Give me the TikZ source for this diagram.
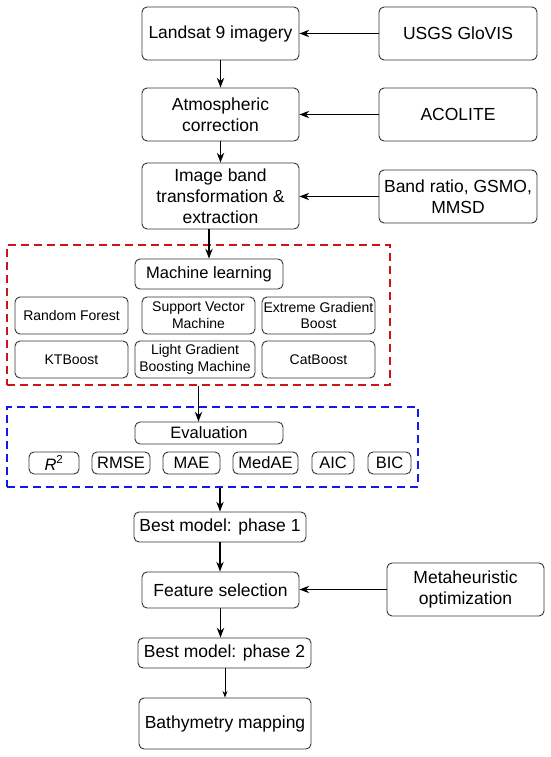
\documentclass[tikz,border=0pt]{standalone}
\usepackage{fontspec}
\setmainfont{Liberation Sans}
\usetikzlibrary{arrows.meta}

\tikzset{
  box/.style={draw=black!80, line width=0.9pt, rounded corners=5pt, align=center,
    inner sep=0pt, font=\fontsize{17.5}{21}\selectfont},
  subbox/.style={box, font=\fontsize{14}{16.7}\selectfont},
  metbox/.style={box, font=\fontsize{16.5}{19}\selectfont},
  sz/.style 2 args={minimum width=#1, minimum height=#2},
  frame/.style={line width=2.6pt, dash pattern=on 8pt off 5pt, inner sep=0pt},
  flow/.style={->, line width=1.5pt},
}
\definecolor{framered}{RGB}{205,20,25}
\definecolor{frameblue}{RGB}{20,25,235}

\begin{document}
\begin{tikzpicture}[>=Stealth, x=1pt, y=-1pt]
  \useasboundingbox (0,0) rectangle (550,757);
  % Data acquisition and preprocessing
  \node[box, sz={157}{53}] (land) at (220.5,33.5) {Landsat 9 imagery};
  \node[box, sz={158}{53}] (usgs) at (458,33.5) {USGS GloVIS};
  \node[box, sz={157}{53}] (atm) at (220.5,114.5) {Atmospheric\\correction};
  \node[box, sz={158}{53}] (acol) at (458,114.5) {ACOLITE};
  \node[box, sz={157}{66}] (img) at (220.5,196) {Image band\\transformation \&\\extraction};
  \node[box, sz={158}{53}] (band) at (458,196.5) {Band ratio, GSMO,\\MMSD};
  % Machine learning group (red dashed frame)
  \node[frame, draw=framered, sz={383}{140}] (mlframe) at (198.5,315) {};
  \node[metbox, sz={148}{30}] (ml) at (209,274) {Machine learning};
  \node[subbox, sz={113}{37}] (rf) at (71.5,315.5) {Random Forest};
  \node[subbox, sz={113}{37}] (svm) at (198.5,315.5) {Support Vector\\Machine};
  \node[subbox, sz={113}{37}] (xgb) at (318.5,315.5) {Extreme Gradient\\Boost};
  \node[subbox, sz={113}{37}] (kt) at (71.5,359.5) {KTBoost};
  \node[subbox, sz={120}{37}] (lgbm) at (195,359.5) {Light Gradient\\Boosting Machine};
  \node[subbox, sz={113}{37}] (cat) at (318.5,359.5) {CatBoost};
  % Evaluation group (blue dashed frame)
  \node[frame, draw=frameblue, sz={411}{80}] (evframe) at (212.5,447) {};
  \node[metbox, sz={148}{22}] (eval) at (209,433) {Evaluation};
  \foreach \nm/\cx/\w/\txt in {rsq/54/50/{{\itshape R}\textsuperscript{2}},
      rmse/121/58/RMSE, mae/191.5/57/MAE, medae/265.5/65/MedAE,
      aic/333/42/AIC, bic/389.5/43/BIC} {
    \node[metbox, sz={\w}{22}] (\nm) at (\cx,463) {\txt};
  }
  % Model selection and mapping
  \node[box, sz={172}{30}] (best1) at (220,527) {Best model: phase 1};
  \node[box, sz={157}{36}] (feat) at (220.5,590) {Feature selection};
  \node[box, sz={157}{53}] (meta) at (465.5,589.5) {Metaheuristic\\optimization};
  \node[box, sz={173}{30}] (best2) at (224.5,653) {Best model: phase 2};
  \node[box, sz={172}{51}] (bathy) at (225,723.5) {Bathymetry mapping};
  % Connectors
  \draw[flow] (usgs) -- (land);
  \draw[flow] (acol) -- (atm);
  \draw[flow] (band.west) -- (band.west -| img.east);
  \draw[flow] (meta.west) -- (meta.west -| feat.east);
  \draw[flow] (land) -- (atm);
  \draw[flow] (atm) -- (img);
  \draw[flow] (img.south -| ml) -- (ml);
  \draw[flow] (mlframe.south) -- (mlframe.south |- eval.north);
  \draw[flow] (evframe.south -| best1) -- (best1);
  \draw[flow] (best1) -- (best1 |- feat.north);
  \draw[flow] (feat.south) -- (feat.south |- best2.north);
  \draw[->, line width=0.8pt] (bathy.north |- best2.south) -- (bathy);
\end{tikzpicture}
\end{document}
